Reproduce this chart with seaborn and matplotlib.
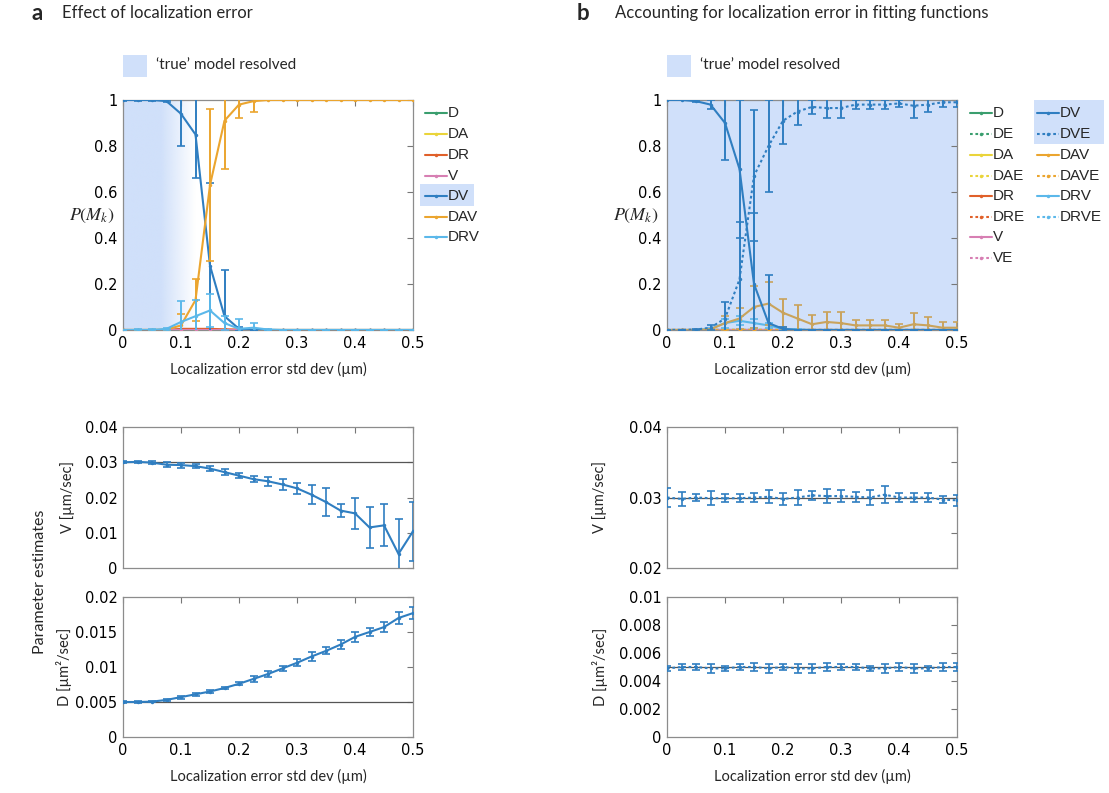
import numpy as np
import pandas as pd
import matplotlib
matplotlib.use("Agg")
import matplotlib.pyplot as plt
import seaborn as sns
from matplotlib.lines import Line2D
from matplotlib.patches import Rectangle
from matplotlib.ticker import FuncFormatter
from matplotlib.colors import to_rgb

# ---- data -------------------------------------------------------------
sigma = [0, 0.025, 0.05, 0.075, 0.1, 0.125, 0.15, 0.175, 0.2, 0.225, 0.25,
         0.275, 0.3, 0.325, 0.35, 0.375, 0.4, 0.425, 0.45, 0.475, 0.5]

# panel a : model probabilities without accounting for localization error
a_DV = [1, 1, 1, 0.995, 0.94, 0.85, 0.28, 0.06, 0.005, 0, 0,
        0, 0, 0, 0, 0, 0, 0, 0, 0, 0]
a_DV_err = [0.003, 0.003, 0.003, 0.005, 0.14, 0.19, 0.36, 0.2, 0.01, 0, 0,
            0, 0, 0, 0, 0, 0, 0, 0, 0, 0]
a_DAV = [0, 0, 0, 0.002, 0.02, 0.13, 0.63, 0.91, 0.98, 0.995, 1,
         1, 1, 1, 1, 1, 1, 1, 1, 1, 1]
a_DAV_err = [0, 0, 0, 0, 0.05, 0.09, 0.33, 0.21, 0.06, 0.045, 0.002,
             0.002, 0.002, 0.002, 0.002, 0.002, 0.002, 0.002, 0.002, 0.002, 0.002]
a_DRV = [0, 0, 0, 0.005, 0.035, 0.06, 0.085, 0.03, 0.005, 0.01, 0.002,
         0, 0, 0, 0, 0, 0, 0, 0, 0, 0]
a_DRV_err = [0.002, 0.003, 0.003, 0.005, 0.09, 0.07, 0.07, 0.03, 0.045, 0.02, 0.003,
             0, 0, 0, 0, 0, 0, 0, 0, 0, 0]
a_DR = [0, 0, 0, 0, 0.005, 0.005, 0.005, 0.003, 0.002, 0, 0,
        0, 0, 0, 0, 0, 0, 0, 0, 0, 0]
a_zero = [0] * 21  # D, DA, V

# panel b : model probabilities with localization error in the fit
b_DV = [1, 1, 0.995, 0.98, 0.9, 0.7, 0.2, 0.03, 0.005, 0, 0,
        0, 0, 0, 0, 0, 0, 0, 0, 0, 0]
b_DV_err = [0.002, 0.002, 0.005, 0.02, 0.16, 0.3, 0.31, 0.21, 0.01, 0, 0,
            0, 0, 0, 0, 0, 0, 0, 0, 0, 0]
b_DVE = [0, 0, 0.002, 0.01, 0.05, 0.22, 0.67, 0.8, 0.91, 0.95, 0.97,
         0.965, 0.965, 0.98, 0.98, 0.98, 0.985, 0.975, 0.98, 0.99, 0.99]
b_DVE_err = [0.002, 0.002, 0.003, 0.01, 0.07, 0.25, 0.285, 0.2, 0.1, 0.06, 0.03,
             0.045, 0.045, 0.02, 0.02, 0.02, 0.015, 0.055, 0.03, 0.02, 0.02]
b_DAV = [0, 0, 0, 0.003, 0.03, 0.05, 0.1, 0.115, 0.075, 0.05, 0.025,
         0.035, 0.03, 0.02, 0.02, 0.02, 0.01, 0.025, 0.02, 0.01, 0.01]
b_DAV_err = [0, 0, 0, 0.003, 0.03, 0.045, 0.09, 0.095, 0.06, 0.06, 0.04,
             0.045, 0.05, 0.025, 0.025, 0.025, 0.015, 0.05, 0.035, 0.025, 0.025]
b_DRV = [0, 0, 0, 0.005, 0.03, 0.04, 0.03, 0.02, 0.005, 0.002, 0,
         0, 0, 0, 0, 0, 0, 0, 0, 0, 0]
b_DRV_err = [0.002, 0.002, 0.002, 0.005, 0.02, 0.02, 0.02, 0.01, 0.005, 0.003, 0,
             0, 0, 0, 0, 0, 0, 0, 0, 0, 0]
b_zero = [0] * 21

# parameter estimates, panel a (DV fit)
a_V = [0.0300, 0.0301, 0.0299, 0.0293, 0.0292, 0.0289, 0.0282, 0.0272, 0.0262, 0.0252, 0.0246,
       0.0237, 0.0226, 0.0208, 0.0187, 0.0163, 0.0155, 0.0115, 0.0121, 0.0040, 0.0104]
a_V_err = [0.0003, 0.0003, 0.0005, 0.0007, 0.0007, 0.0006, 0.0006, 0.0009, 0.0008, 0.0009, 0.0013,
           0.0015, 0.0016, 0.0027, 0.0040, 0.0018, 0.0043, 0.0058, 0.0060, 0.0098, 0.0083]
a_D = [0.0050, 0.0050, 0.00505, 0.0053, 0.0057, 0.0061, 0.0065, 0.0070, 0.0076, 0.0083, 0.0090,
       0.0098, 0.0106, 0.0115, 0.0123, 0.0132, 0.0143, 0.0150, 0.0157, 0.0170, 0.0177]
a_D_err = [0.0001, 0.0001, 0.0001, 0.0002, 0.0002, 0.0002, 0.0002, 0.0002, 0.0002, 0.0004, 0.0004,
           0.0004, 0.0005, 0.0006, 0.0005, 0.0006, 0.0007, 0.0006, 0.0007, 0.0009, 0.0009]

# parameter estimates, panel b (DVE fit)
b_V = [0.0300, 0.0298, 0.0300, 0.0299, 0.0299, 0.0299, 0.0300, 0.0301, 0.0298, 0.0300, 0.0303,
       0.0302, 0.0302, 0.0301, 0.0300, 0.0304, 0.0300, 0.0300, 0.0300, 0.0297, 0.0296]
b_V_err = [0.0014, 0.0010, 0.0005, 0.0010, 0.0006, 0.0006, 0.0006, 0.0009, 0.0009, 0.0010, 0.0006,
           0.0010, 0.0008, 0.0007, 0.0010, 0.0012, 0.0007, 0.0007, 0.0006, 0.0005, 0.0008]
b_D = [0.0049, 0.0050, 0.0050, 0.0049, 0.0049, 0.0050, 0.0050, 0.0049, 0.0050, 0.0049, 0.0049,
       0.0050, 0.0050, 0.0050, 0.0049, 0.0049, 0.0050, 0.0049, 0.0049, 0.0050, 0.0050]
b_D_err = [0.0002, 0.0002, 0.0002, 0.0003, 0.0002, 0.0002, 0.0003, 0.0003, 0.0002, 0.0003, 0.0003,
           0.0003, 0.0002, 0.0002, 0.0002, 0.0003, 0.0003, 0.0003, 0.0002, 0.0003, 0.0003]

true_V = 0.03
true_D = 0.005

colors = {
    "D": "#3a9e6e", "DA": "#ead43a", "DR": "#e0602a", "V": "#d77fb3",
    "DV": "#2f7ec1", "DAV": "#eba52f", "DRV": "#5bb8ea",
}
SHADE = "#d0e0fa"
SPINE = "#8c8c8c"
LABEL_FONT = "Lato"
TEXT_FONT = "Liberation Sans"

# ---- figure -----------------------------------------------------------
sns.set_theme(style="white")
plt.rcParams["font.family"] = ["DejaVu Sans"]
plt.rcParams["mathtext.fontset"] = "stix"

W, H = 1109, 793
fig = plt.figure(figsize=(W / 100, H / 100), dpi=100)
fig.patch.set_facecolor("white")


def px_rect(l, t, r, b):
    return [l / W, 1 - b / H, (r - l) / W, (b - t) / H]


def fx(p):
    return p / W


def fy(p):
    return 1 - p / H


fmt = FuncFormatter(lambda v, p: f"{v:g}")


def style_axes(ax, ylim, yticks, xlabels=True, ylabel_fmt=fmt):
    ax.set_xlim(0, 0.5)
    ax.set_ylim(*ylim)
    ax.set_xticks([0, 0.1, 0.2, 0.3, 0.4, 0.5])
    ax.set_yticks(yticks)
    ax.xaxis.set_major_formatter(fmt if xlabels else FuncFormatter(lambda v, p: ""))
    ax.yaxis.set_major_formatter(ylabel_fmt)
    ax.tick_params(direction="in", top=True, right=True, length=4, width=0.8,
                   color="#777777", labelsize=10.5, pad=4, labelcolor="black")
    for s in ax.spines.values():
        s.set_visible(True)
        s.set_color(SPINE)
        s.set_linewidth(0.9)
    ax.set_xlabel("")
    ax.set_ylabel("")
    if xlabels:
        ax.set_xlabel("Localization error std dev (µm)", family=LABEL_FONT,
                      fontsize=10.5, labelpad=8)


def series(ax, y, err, color, ls="-", z=3, ew=1.4):
    df = pd.DataFrame({"sigma": sigma, "p": y})
    sns.lineplot(data=df, x="sigma", y="p", ax=ax, color=color, lw=1.5,
                 linestyle=ls, marker="o", markersize=2.5, markeredgewidth=0,
                 legend=False, zorder=z)
    if err is not None:
        ax.errorbar(sigma, y, yerr=err, fmt="none", ecolor=color,
                    elinewidth=ew, capsize=3, capthick=1.2, zorder=z)


DOT = (0, (1.3, 1.3))

# ---- panel a top -------------------------------------------------------
ax_a = fig.add_axes(px_rect(123, 100, 413, 330))
xs = np.linspace(0, 0.5, 600)
alpha = np.clip((0.125 - xs) / 0.06, 0, 1)
img = np.zeros((1, xs.size, 4))
img[..., :3] = to_rgb(SHADE)
img[..., 3] = alpha
ax_a.imshow(img, extent=[0, 0.5, 0, 1], aspect="auto", zorder=0,
            interpolation="bilinear")
series(ax_a, a_zero, None, colors["D"])
series(ax_a, a_zero, None, colors["DA"])
series(ax_a, a_DR, None, colors["DR"])
series(ax_a, a_zero, None, colors["V"])
series(ax_a, a_DV, a_DV_err, colors["DV"])
series(ax_a, a_DAV, a_DAV_err, colors["DAV"])
series(ax_a, a_DRV, a_DRV_err, colors["DRV"])
style_axes(ax_a, (0, 1), [0, 0.2, 0.4, 0.6, 0.8, 1])

# ---- panel b top -------------------------------------------------------
ax_b = fig.add_axes(px_rect(667, 100, 957, 330))
ax_b.set_facecolor(SHADE)
for c in ["D", "DA", "DR", "V"]:
    series(ax_b, b_zero, None, colors[c])
    series(ax_b, b_zero, None, colors[c], ls=DOT)
series(ax_b, b_DRV, b_DRV_err, colors["DRV"])
series(ax_b, b_zero, None, colors["DRV"], ls=DOT)
series(ax_b, b_DAV, b_DAV_err, "#c9a35c")
series(ax_b, b_zero, None, colors["DAV"], ls=DOT)
series(ax_b, b_DV, b_DV_err, colors["DV"])
series(ax_b, b_DVE, b_DVE_err, colors["DV"], ls=DOT)
style_axes(ax_b, (0, 1), [0, 0.2, 0.4, 0.6, 0.8, 1])

# ---- parameter panels --------------------------------------------------
ax_av = fig.add_axes(px_rect(123, 427, 413, 568))
ax_av.axhline(true_V, color="#555555", lw=0.9, zorder=1)
series(ax_av, a_V, a_V_err, colors["DV"], ew=1.2)
style_axes(ax_av, (0, 0.04), [0, 0.01, 0.02, 0.03, 0.04], xlabels=False)

ax_ad = fig.add_axes(px_rect(123, 597, 413, 737))
ax_ad.axhline(true_D, color="#555555", lw=0.9, zorder=1)
series(ax_ad, a_D, a_D_err, colors["DV"], ew=1.2)
style_axes(ax_ad, (0, 0.02), [0, 0.005, 0.01, 0.015, 0.02])

ax_bv = fig.add_axes(px_rect(667, 427, 957, 568))
ax_bv.axhline(true_V, color="#555555", lw=0.9, zorder=1)
series(ax_bv, b_V, b_V_err, colors["DV"], ls=DOT, ew=1.2)
style_axes(ax_bv, (0.02, 0.04), [0.02, 0.025, 0.03, 0.035, 0.04], xlabels=False,
           ylabel_fmt=FuncFormatter(lambda v, p: f"{v:g}" if round(v * 1000) % 10 == 0 else ""))

ax_bd = fig.add_axes(px_rect(667, 597, 957, 737))
ax_bd.axhline(true_D, color="#555555", lw=0.9, zorder=1)
series(ax_bd, b_D, b_D_err, colors["DV"], ls=DOT, ew=1.2)
style_axes(ax_bd, (0, 0.01), [0, 0.002, 0.004, 0.006, 0.008, 0.01])

# ---- texts -------------------------------------------------------------
fig.text(fx(32), fy(13), "a", fontsize=16, fontweight="bold", family=LABEL_FONT,
         va="center", ha="left")
fig.text(fx(62), fy(13), "Effect of localization error", fontsize=12,
         family=LABEL_FONT, va="center", ha="left")
fig.text(fx(577), fy(13), "b", fontsize=16, fontweight="bold", family=LABEL_FONT,
         va="center", ha="left")
fig.text(fx(615), fy(13), "Accounting for localization error in fitting functions",
         fontsize=12, family=LABEL_FONT, va="center", ha="left")

for left in (123, 667):
    fig.patches.append(Rectangle((fx(left), fy(77)), 24 / W, 22 / H,
                                 transform=fig.transFigure, color=SHADE, lw=0))
    fig.text(fx(left + 33), fy(65), "\u2018true\u2019 model resolved", fontsize=11,
             family=LABEL_FONT, va="center", ha="left")

for left in (92, 636):
    fig.text(fx(left), fy(216), r"$P(M_k)$", fontsize=13, ha="center", va="center")

fig.text(fx(40), fy(582), "Parameter estimates", rotation=90, fontsize=11.5,
         family=LABEL_FONT, ha="center", va="center")
fig.text(fx(68), fy(497), "V [µm/sec]", rotation=90, fontsize=10.5,
         family=LABEL_FONT, ha="center", va="center")
fig.text(fx(64), fy(667), "D [µm²/sec]", rotation=90, fontsize=10.5,
         family=LABEL_FONT, ha="center", va="center")
fig.text(fx(600), fy(497), "V [µm/sec]", rotation=90, fontsize=10.5,
         family=LABEL_FONT, ha="center", va="center")
fig.text(fx(600), fy(667), "D [µm²/sec]", rotation=90, fontsize=10.5,
         family=LABEL_FONT, ha="center", va="center")


# ---- legends -----------------------------------------------------------
def legend_entry(x0, y, label, color, ls="-"):
    x1 = x0 + 22
    fig.add_artist(Line2D([fx(x0), fx(x1)], [fy(y), fy(y)], transform=fig.transFigure,
                          color=color, lw=1.5, ls=ls))
    fig.add_artist(Line2D([fx((x0 + x1) / 2)], [fy(y)], transform=fig.transFigure,
                          color=color, marker="o", ms=2.5, mew=0, ls="none"))
    fig.text(fx(x1 + 1), fy(y), label, fontsize=11, family=TEXT_FONT,
             va="center", ha="left")


fig.patches.append(Rectangle((fx(420), fy(206)), 54 / W, 22 / H,
                             transform=fig.transFigure, color=SHADE, lw=0))
row = [113, 134, 155, 176, 196, 217, 237, 258]
for i, name in enumerate(["D", "DA", "DR", "V", "DV", "DAV", "DRV"]):
    legend_entry(425, row[i], name, colors[name])

fig.patches.append(Rectangle((fx(1034), fy(144)), 70 / W, 44 / H,
                             transform=fig.transFigure, color=SHADE, lw=0))
col1 = ["D", "DA", "DR", "V"]
for i, name in enumerate(col1):
    legend_entry(970, row[2 * i], name, colors[name])
    legend_entry(970, row[2 * i + 1], name + "E", colors[name], ls=DOT)
col2 = ["DV", "DAV", "DRV"]
for i, name in enumerate(col2):
    legend_entry(1037, row[2 * i], name, colors[name])
    legend_entry(1037, row[2 * i + 1], name + "E", colors[name], ls=DOT)

fig.savefig("out.png", dpi=100)
